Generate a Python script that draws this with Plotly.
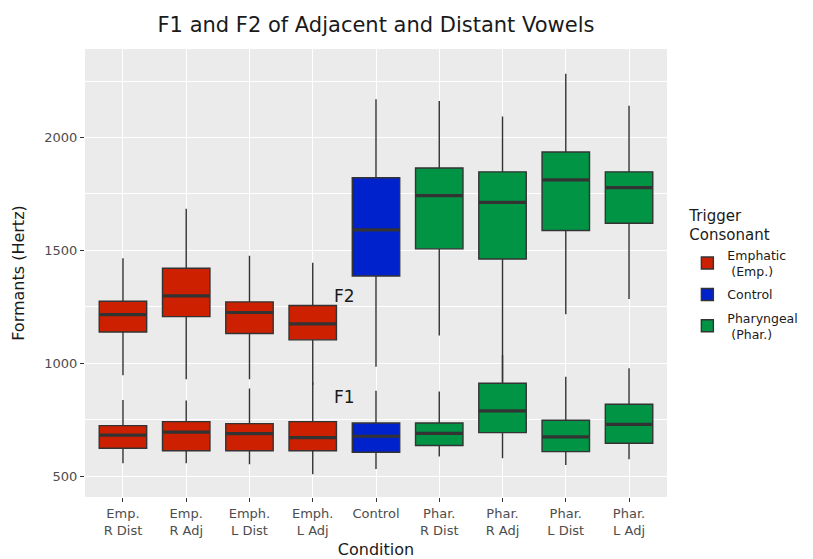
import plotly.graph_objects as go

categories = ["Emp.<br>R Dist", "Emp.<br>R Adj", "Emph.<br>L Dist", "Emph.<br>L Adj", "Control",
              "Phar.<br>R Dist", "Phar.<br>R Adj", "Phar.<br>L Dist", "Phar.<br>L Adj"]
groups = ["Emphatic", "Emphatic", "Emphatic", "Emphatic", "Control",
          "Pharyngeal", "Pharyngeal", "Pharyngeal", "Pharyngeal"]

# F2 box statistics per condition
f2_low = [947, 930, 930, 905, 985, 1123, 915, 1217, 1285]
f2_q1 = [1139, 1207, 1132, 1104, 1387, 1507, 1462, 1588, 1620]
f2_med = [1216, 1299, 1225, 1175, 1591, 1743, 1713, 1812, 1778]
f2_q3 = [1275, 1421, 1272, 1256, 1822, 1865, 1848, 1936, 1848]
f2_high = [1465, 1684, 1476, 1445, 2170, 2162, 2093, 2282, 2141]

# F1 box statistics per condition
f1_low = [558, 558, 553, 509, 532, 587, 580, 550, 575]
f1_q1 = [624, 613, 613, 613, 606, 636, 693, 609, 646]
f1_med = [682, 695, 689, 671, 677, 690, 789, 674, 730]
f1_q3 = [724, 742, 733, 742, 736, 736, 912, 748, 819]
f1_high = [838, 835, 888, 915, 878, 875, 1037, 941, 978]

group_names = ["Emphatic", "Control", "Pharyngeal"]
legend_labels = ["Emphatic<br> (Emp.)", "Control", "Pharyngeal<br> (Phar.)"]
group_colors = ["#CC2000", "#0022CC", "#009444"]

annot_labels = ["F2", "F1"]
annot_x = [3.5, 3.5]
annot_y = [1300, 850]

FONT = "DejaVu Sans"
OUTLINE = "#333333"

# the page body adds an 8px offset; the figure is sized to fill the rest of the window
W, H = 805, 551

fig = go.Figure()

def pick(arr, idx):
    return [arr[i] for i in idx]

for g, lab, col in zip(group_names, legend_labels, group_colors):
    idx = [i for i, gg in enumerate(groups) if gg == g]
    xs = pick(categories, idx)
    for k, (lo, q1, md, q3, hi) in enumerate([(f2_low, f2_q1, f2_med, f2_q3, f2_high),
                                              (f1_low, f1_q1, f1_med, f1_q3, f1_high)]):
        fig.add_trace(go.Box(
            x=xs, q1=pick(q1, idx), median=pick(md, idx), q3=pick(q3, idx),
            lowerfence=pick(lo, idx), upperfence=pick(hi, idx),
            name=lab, legendgroup=g, showlegend=(k == 0),
            fillcolor=col, line=dict(color=OUTLINE, width=1.4),
            width=0.75, whiskerwidth=0, boxpoints=False, hoverinfo="skip",
        ))

# thicker median bars (ggplot style)
for md in [f2_med, f1_med]:
    fig.add_trace(go.Box(
        x=categories, q1=md, median=md, q3=md, lowerfence=md, upperfence=md,
        showlegend=False, fillcolor="rgba(0,0,0,0)",
        line=dict(color=OUTLINE, width=3.2), width=0.75, whiskerwidth=0,
        boxpoints=False, hoverinfo="skip",
    ))

for t, ax, ay in zip(annot_labels, annot_x, annot_y):
    fig.add_annotation(x=ax, y=ay, text=t, showarrow=False,
                       font=dict(family=FONT, size=17, color="#1a1a1a"))

fig.update_layout(
    width=W, height=H,
    margin=dict(l=77, r=146, t=41, b=62, autoexpand=False),
    paper_bgcolor="white", plot_bgcolor="#EBEBEB",
    boxmode="overlay",
    font=dict(family=FONT, color="#1a1a1a"),
    title=dict(text="F1 and F2 of Adjacent and Distant Vowels", x=368 / W,
               xanchor="center", xref="container", y=1 - 17 / H, yanchor="middle",
               yref="container", automargin=False,
               font=dict(family=FONT, size=21, color="#1a1a1a")),
    legend=dict(
        title=dict(text="Trigger<br>Consonant", font=dict(family=FONT, size=15, color="#1a1a1a")),
        x=1.035, xanchor="left", y=0.66, yanchor="top",
        font=dict(family=FONT, size=12.5, color="#1a1a1a"),
        bgcolor="rgba(0,0,0,0)", tracegroupgap=4,
    ),
    xaxis=dict(
        type="category", categoryorder="array", categoryarray=categories,
        range=[-0.6, 8.6], showgrid=True, gridcolor="white", gridwidth=1.1,
        ticks="outside", ticklen=4, tickcolor=OUTLINE, tickwidth=1.1,
        tickfont=dict(family=FONT, size=13, color="#4d4d4d"),
        title=dict(text="Condition", font=dict(family=FONT, size=16, color="#1a1a1a")),
        zeroline=False, showline=False, automargin=False,
    ),
    yaxis=dict(
        range=[408, 2392], tickvals=[500, 1000, 1500, 2000],
        showgrid=True, gridcolor="white", gridwidth=1.1,
        minor=dict(tickvals=[750, 1250, 1750, 2250], showgrid=True, gridcolor="white",
                   gridwidth=0.5, ticks=""),
        ticks="outside", ticklen=4, tickcolor=OUTLINE, tickwidth=1.1,
        tickfont=dict(family=FONT, size=13, color="#4d4d4d"),
        title=dict(text="Formants (Hertz)", font=dict(family=FONT, size=16, color="#1a1a1a")),
        zeroline=False, showline=False, automargin=False,
    ),
)

fig.write_html("out.html")
